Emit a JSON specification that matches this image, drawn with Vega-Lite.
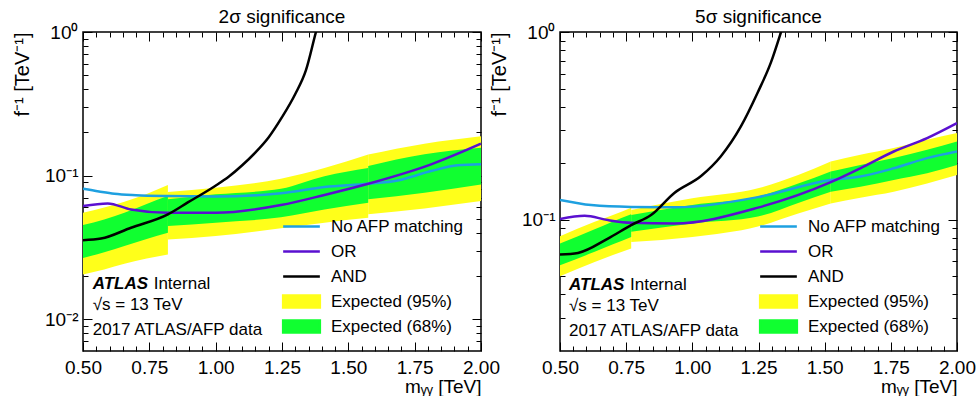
{
  "$schema": "https://vega.github.io/schema/vega-lite/v6.json",
  "padding": {"left": 11, "top": 7, "right": 0, "bottom": 0},
  "bounds": "flush",
  "spacing": 79,
  "datasets": {
    "bands2": [
      {"seg": 1, "x": 0.5, "lo95": 0.0205, "lo68": 0.0267, "hi68": 0.0452, "hi95": 0.0551},
      {"seg": 1, "x": 0.58, "lo95": 0.0222, "lo68": 0.0292, "hi68": 0.0495, "hi95": 0.06},
      {"seg": 1, "x": 0.656, "lo95": 0.0243, "lo68": 0.0323, "hi68": 0.0551, "hi95": 0.0657},
      {"seg": 1, "x": 0.74, "lo95": 0.0264, "lo68": 0.0362, "hi68": 0.0635, "hi95": 0.0745},
      {"seg": 1, "x": 0.82, "lo95": 0.0282, "lo68": 0.04, "hi68": 0.072, "hi95": 0.0859},
      {"seg": 2, "x": 0.82, "lo95": 0.0359, "lo68": 0.0445, "hi68": 0.0683, "hi95": 0.0767},
      {"seg": 2, "x": 1.0, "lo95": 0.0379, "lo68": 0.047, "hi68": 0.074, "hi95": 0.0822},
      {"seg": 2, "x": 1.246, "lo95": 0.043, "lo68": 0.0512, "hi68": 0.081, "hi95": 0.0952},
      {"seg": 2, "x": 1.41, "lo95": 0.047, "lo68": 0.058, "hi68": 0.099, "hi95": 0.113},
      {"seg": 2, "x": 1.575, "lo95": 0.0508, "lo68": 0.0647, "hi68": 0.113, "hi95": 0.14},
      {"seg": 3, "x": 1.575, "lo95": 0.0537, "lo68": 0.0683, "hi68": 0.1165, "hi95": 0.14},
      {"seg": 3, "x": 1.787, "lo95": 0.059, "lo68": 0.0759, "hi68": 0.1406, "hi95": 0.1667},
      {"seg": 3, "x": 2.0, "lo95": 0.0664, "lo68": 0.0868, "hi68": 0.156, "hi95": 0.188}
    ],
    "lines2": [
      {"series": "No AFP matching", "x": 0.5, "y": 0.0809},
      {"series": "No AFP matching", "x": 0.56, "y": 0.0775},
      {"series": "No AFP matching", "x": 0.618, "y": 0.0747},
      {"series": "No AFP matching", "x": 0.7, "y": 0.073},
      {"series": "No AFP matching", "x": 0.82, "y": 0.072},
      {"series": "No AFP matching", "x": 1.0, "y": 0.0715},
      {"series": "No AFP matching", "x": 1.246, "y": 0.0752},
      {"series": "No AFP matching", "x": 1.41, "y": 0.0832},
      {"series": "No AFP matching", "x": 1.575, "y": 0.0877},
      {"series": "No AFP matching", "x": 1.686, "y": 0.0925},
      {"series": "No AFP matching", "x": 1.812, "y": 0.1075},
      {"series": "No AFP matching", "x": 1.912, "y": 0.118},
      {"series": "No AFP matching", "x": 2.0, "y": 0.12},
      {"series": "OR", "x": 0.5, "y": 0.0613},
      {"series": "OR", "x": 0.593, "y": 0.064},
      {"series": "OR", "x": 0.681, "y": 0.058},
      {"series": "OR", "x": 0.82, "y": 0.055},
      {"series": "OR", "x": 1.0, "y": 0.055},
      {"series": "OR", "x": 1.246, "y": 0.0623},
      {"series": "OR", "x": 1.41, "y": 0.0733},
      {"series": "OR", "x": 1.575, "y": 0.0877},
      {"series": "OR", "x": 1.812, "y": 0.1197},
      {"series": "OR", "x": 2.0, "y": 0.1667},
      {"series": "AND", "x": 0.5, "y": 0.0355},
      {"series": "AND", "x": 0.568, "y": 0.0364},
      {"series": "AND", "x": 0.681, "y": 0.0433},
      {"series": "AND", "x": 0.82, "y": 0.0537},
      {"series": "AND", "x": 0.895, "y": 0.065},
      {"series": "AND", "x": 0.995, "y": 0.084},
      {"series": "AND", "x": 1.05, "y": 0.0985},
      {"series": "AND", "x": 1.1, "y": 0.118},
      {"series": "AND", "x": 1.15, "y": 0.145},
      {"series": "AND", "x": 1.2, "y": 0.185},
      {"series": "AND", "x": 1.25, "y": 0.255},
      {"series": "AND", "x": 1.3, "y": 0.37},
      {"series": "AND", "x": 1.34, "y": 0.54},
      {"series": "AND", "x": 1.378, "y": 1.0},
      {"series": "AND", "x": 1.4, "y": 1.4}
    ],
    "bands5": [
      {"seg": 1, "x": 0.5, "lo95": 0.05, "lo68": 0.0573, "hi68": 0.0747, "hi95": 0.0818},
      {"seg": 1, "x": 0.631, "lo95": 0.0596, "lo68": 0.0675, "hi68": 0.089, "hi95": 0.0975},
      {"seg": 1, "x": 0.7, "lo95": 0.065, "lo68": 0.074, "hi68": 0.098, "hi95": 0.106},
      {"seg": 1, "x": 0.769, "lo95": 0.0703, "lo68": 0.081, "hi68": 0.107, "hi95": 0.116},
      {"seg": 2, "x": 0.769, "lo95": 0.0762, "lo68": 0.0863, "hi68": 0.106, "hi95": 0.1127},
      {"seg": 2, "x": 1.0, "lo95": 0.081, "lo68": 0.0956, "hi68": 0.12, "hi95": 0.13},
      {"seg": 2, "x": 1.248, "lo95": 0.092, "lo68": 0.104, "hi68": 0.133, "hi95": 0.147},
      {"seg": 2, "x": 1.4, "lo95": 0.108, "lo68": 0.123, "hi68": 0.156, "hi95": 0.173},
      {"seg": 2, "x": 1.523, "lo95": 0.122, "lo68": 0.141, "hi68": 0.181, "hi95": 0.204},
      {"seg": 3, "x": 1.523, "lo95": 0.122, "lo68": 0.141, "hi68": 0.181, "hi95": 0.204},
      {"seg": 3, "x": 1.635, "lo95": 0.131, "lo68": 0.15, "hi68": 0.196, "hi95": 0.222},
      {"seg": 3, "x": 1.761, "lo95": 0.141, "lo68": 0.163, "hi68": 0.213, "hi95": 0.241},
      {"seg": 3, "x": 1.887, "lo95": 0.156, "lo68": 0.177, "hi68": 0.236, "hi95": 0.267},
      {"seg": 3, "x": 2.0, "lo95": 0.173, "lo68": 0.196, "hi68": 0.261, "hi95": 0.29}
    ],
    "lines5": [
      {"series": "No AFP matching", "x": 0.5, "y": 0.1274},
      {"series": "No AFP matching", "x": 0.618, "y": 0.1197},
      {"series": "No AFP matching", "x": 0.769, "y": 0.117},
      {"series": "No AFP matching", "x": 0.933, "y": 0.1165},
      {"series": "No AFP matching", "x": 1.248, "y": 0.132},
      {"series": "No AFP matching", "x": 1.521, "y": 0.163},
      {"series": "No AFP matching", "x": 1.635, "y": 0.17},
      {"series": "No AFP matching", "x": 1.761, "y": 0.188},
      {"series": "No AFP matching", "x": 1.887, "y": 0.213},
      {"series": "No AFP matching", "x": 2.0, "y": 0.231},
      {"series": "OR", "x": 0.5, "y": 0.1009},
      {"series": "OR", "x": 0.593, "y": 0.105},
      {"series": "OR", "x": 0.681, "y": 0.0996},
      {"series": "OR", "x": 0.769, "y": 0.0964},
      {"series": "OR", "x": 0.933, "y": 0.0956},
      {"series": "OR", "x": 1.248, "y": 0.116},
      {"series": "OR", "x": 1.521, "y": 0.158},
      {"series": "OR", "x": 1.635, "y": 0.188},
      {"series": "OR", "x": 1.761, "y": 0.231},
      {"series": "OR", "x": 1.887, "y": 0.272},
      {"series": "OR", "x": 2.0, "y": 0.327},
      {"series": "AND", "x": 0.5, "y": 0.0653},
      {"series": "AND", "x": 0.568, "y": 0.0666},
      {"series": "AND", "x": 0.681, "y": 0.0794},
      {"series": "AND", "x": 0.769, "y": 0.0937},
      {"series": "AND", "x": 0.844, "y": 0.106},
      {"series": "AND", "x": 0.932, "y": 0.139},
      {"series": "AND", "x": 1.033, "y": 0.171},
      {"series": "AND", "x": 1.108, "y": 0.218},
      {"series": "AND", "x": 1.184, "y": 0.315},
      {"series": "AND", "x": 1.247, "y": 0.476},
      {"series": "AND", "x": 1.297, "y": 0.689},
      {"series": "AND", "x": 1.335, "y": 1.0},
      {"series": "AND", "x": 1.36, "y": 1.3}
    ]
  },
  "hconcat": [
    {
      "width": 398,
      "height": 319,
      "title": {"text": "2σ significance", "frame": "group"},
      "layer": [
        {
          "data": {"name": "bands2"},
          "mark": {"type": "area", "interpolate": "monotone", "clip": true},
          "encoding": {
            "x": {"field": "x", "type": "quantitative", "scale": {"domain": [0.5, 2.0], "nice": false, "zero": false},
              "axis": {"orient": "bottom", "values": [0.5, 0.75, 1, 1.25, 1.5, 1.75, 2], "format": ".2f", "tickSize": -9, "labelPadding": 16, "labelFlush": false, "title": "mᵧᵧ [TeV]", "titleFontSize": 19, "titleAnchor": "end", "titleAlign": "right", "titlePadding": 0}},
            "y": {"field": "hi95", "type": "quantitative", "scale": {"type": "log", "domain": [0.006, 1], "nice": false},
              "axis": {"orient": "left", "values": [0.01, 0.1, 1], "labelExpr": "datum.value >= 0.5 ? '10⁰' : datum.value >= 0.05 ? '10⁻¹' : '10⁻²'", "tickSize": -9, "labelPadding": 14, "labelFlush": false, "minExtent": 45, "maxExtent": 45, "title": "f⁻¹ [TeV⁻¹]", "titleFontSize": 20, "titleAnchor": "end", "titlePadding": 6}},
            "y2": {"field": "lo95"},
            "detail": {"field": "seg"},
            "color": {"datum": "Expected (95%)",
              "scale": {"domain": ["No AFP matching", "OR", "AND", "Expected (95%)", "Expected (68%)"], "range": ["#1ea0e0", "#5a10d0", "#000000", "#ffff1a", "#10ff30"]},
              "legend": {"orient": "none", "legendX": 210, "legendY": 186, "title": null, "rowPadding": 2, "labelOffset": 21, "gridAlign": "all",
                "encode": {"symbols": {"update": {
                  "shape": {"signal": "datum.value == 'Expected (95%)' || datum.value == 'Expected (68%)' ? 'M-2.62,-0.857H2.62V0.857H-2.62Z' : 'M-2.62,0H2.62'"},
                  "fill": {"signal": "datum.value == 'Expected (95%)' ? '#ffff1a' : datum.value == 'Expected (68%)' ? '#10ff30' : 'transparent'"},
                  "stroke": {"signal": "datum.value == 'No AFP matching' ? '#1ea0e0' : datum.value == 'OR' ? '#5a10d0' : datum.value == 'AND' ? '#000000' : 'transparent'"},
                  "strokeWidth": {"value": 2.5}, "opacity": {"value": 1}, "fillOpacity": {"value": 1}, "strokeOpacity": {"value": 1}}}}}}
          }
        },
        {
          "data": {"name": "bands2"},
          "mark": {"type": "area", "interpolate": "monotone", "clip": true},
          "encoding": {
            "x": {"field": "x", "type": "quantitative", "axis": {"orient": "bottom", "values": [0.55, 0.6, 0.65, 0.7, 0.8, 0.85, 0.9, 0.95, 1.05, 1.1, 1.15, 1.2, 1.3, 1.35, 1.4, 1.45, 1.55, 1.6, 1.65, 1.7, 1.8, 1.85, 1.9, 1.95], "tickSize": -5, "labels": false, "title": null, "minExtent": 0, "maxExtent": 0}},
            "y": {"field": "hi68", "type": "quantitative", "axis": {"orient": "left", "values": [0.007, 0.008, 0.009, 0.02, 0.03, 0.04, 0.05, 0.06, 0.07, 0.08, 0.09, 0.2, 0.3, 0.4, 0.5, 0.6, 0.7, 0.8, 0.9], "tickSize": -5, "labels": false, "title": null, "minExtent": 0, "maxExtent": 0}},
            "y2": {"field": "lo68"},
            "detail": {"field": "seg"},
            "color": {"datum": "Expected (68%)", "legend": {"orient": "none", "legendX": 210, "legendY": 186, "title": null, "rowPadding": 2, "labelOffset": 21, "gridAlign": "all"}}
          }
        },
        {
          "data": {"name": "lines2"},
          "mark": {"type": "line", "interpolate": "monotone", "clip": true, "strokeWidth": 2.5},
          "encoding": {
            "x": {"field": "x", "type": "quantitative", "axis": {"orient": "top", "values": [0.5, 0.75, 1, 1.25, 1.5, 1.75, 2], "tickSize": -9, "labels": false, "title": null, "minExtent": 0, "maxExtent": 0}},
            "y": {"field": "y", "type": "quantitative", "axis": {"orient": "right", "values": [0.01, 0.1, 1], "tickSize": -9, "labels": false, "title": null, "minExtent": 0, "maxExtent": 0}},
            "color": {"field": "series", "type": "nominal", "legend": {"orient": "none", "legendX": 210, "legendY": 186, "title": null, "rowPadding": 2, "labelOffset": 21, "gridAlign": "all"}}
          }
        },
        {
          "data": {"values": [{}]},
          "mark": {"type": "text", "text": "ATLAS", "fontStyle": "italic", "fontWeight": "bold", "fontSize": 17, "align": "left", "baseline": "middle"},
          "encoding": {
            "x": {"datum": 0.5365, "type": "quantitative", "axis": {"orient": "top", "values": [0.55, 0.6, 0.65, 0.7, 0.8, 0.85, 0.9, 0.95, 1.05, 1.1, 1.15, 1.2, 1.3, 1.35, 1.4, 1.45, 1.55, 1.6, 1.65, 1.7, 1.8, 1.85, 1.9, 1.95], "tickSize": -5, "labels": false, "title": null, "minExtent": 0, "maxExtent": 0}},
            "y": {"datum": 0.01754, "type": "quantitative", "axis": {"orient": "right", "values": [0.007, 0.008, 0.009, 0.02, 0.03, 0.04, 0.05, 0.06, 0.07, 0.08, 0.09, 0.2, 0.3, 0.4, 0.5, 0.6, 0.7, 0.8, 0.9], "tickSize": -5, "labels": false, "title": null, "minExtent": 0, "maxExtent": 0}}
          }
        },
        {
          "data": {"values": [{}]},
          "mark": {"type": "text", "text": "Internal", "fontSize": 17, "align": "left", "baseline": "middle"},
          "encoding": {
            "x": {"datum": 0.7664, "type": "quantitative", "axis": null},
            "y": {"datum": 0.01754, "type": "quantitative", "axis": null}
          }
        },
        {
          "data": {"values": [{}]},
          "mark": {"type": "text", "text": "√s = 13 TeV", "fontSize": 17, "align": "left", "baseline": "middle"},
          "encoding": {
            "x": {"datum": 0.5365, "type": "quantitative", "axis": null},
            "y": {"datum": 0.01252, "type": "quantitative", "axis": null}
          }
        },
        {
          "data": {"values": [{}]},
          "mark": {"type": "text", "text": "2017 ATLAS/AFP data", "fontSize": 17, "align": "left", "baseline": "middle"},
          "encoding": {
            "x": {"datum": 0.5365, "type": "quantitative", "axis": null},
            "y": {"datum": 0.00838, "type": "quantitative", "axis": null}
          }
        }
      ],
      "resolve": {"axis": {"x": "independent", "y": "independent"}}
    },
    {
      "width": 397,
      "height": 319,
      "title": {"text": "5σ significance", "frame": "group"},
      "layer": [
        {
          "data": {"name": "bands5"},
          "mark": {"type": "area", "interpolate": "monotone", "clip": true},
          "encoding": {
            "x": {"field": "x", "type": "quantitative", "scale": {"domain": [0.5, 2.0], "nice": false, "zero": false},
              "axis": {"orient": "bottom", "values": [0.5, 0.75, 1, 1.25, 1.5, 1.75, 2], "format": ".2f", "tickSize": -9, "labelPadding": 16, "labelFlush": false, "title": "mᵧᵧ [TeV]", "titleFontSize": 19, "titleAnchor": "end", "titleAlign": "right", "titlePadding": 0}},
            "y": {"field": "hi95", "type": "quantitative", "scale": {"type": "log", "domain": [0.02, 1], "nice": false},
              "axis": {"orient": "left", "values": [0.1, 1], "labelExpr": "datum.value >= 0.5 ? '10⁰' : '10⁻¹'", "tickSize": -9, "labelPadding": 14, "labelFlush": false, "minExtent": 45, "maxExtent": 45, "title": "f⁻¹ [TeV⁻¹]", "titleFontSize": 20, "titleAnchor": "end", "titlePadding": 6}},
            "y2": {"field": "lo95"},
            "detail": {"field": "seg"},
            "color": {"datum": "Expected (95%)",
              "scale": {"domain": ["No AFP matching", "OR", "AND", "Expected (95%)", "Expected (68%)"], "range": ["#1ea0e0", "#5a10d0", "#000000", "#ffff1a", "#10ff30"]},
              "legend": {"orient": "none", "legendX": 210, "legendY": 186, "title": null, "rowPadding": 2, "labelOffset": 21, "gridAlign": "all",
                "encode": {"symbols": {"update": {
                  "shape": {"signal": "datum.value == 'Expected (95%)' || datum.value == 'Expected (68%)' ? 'M-2.62,-0.857H2.62V0.857H-2.62Z' : 'M-2.62,0H2.62'"},
                  "fill": {"signal": "datum.value == 'Expected (95%)' ? '#ffff1a' : datum.value == 'Expected (68%)' ? '#10ff30' : 'transparent'"},
                  "stroke": {"signal": "datum.value == 'No AFP matching' ? '#1ea0e0' : datum.value == 'OR' ? '#5a10d0' : datum.value == 'AND' ? '#000000' : 'transparent'"},
                  "strokeWidth": {"value": 2.5}, "opacity": {"value": 1}, "fillOpacity": {"value": 1}, "strokeOpacity": {"value": 1}}}}}}
          }
        },
        {
          "data": {"name": "bands5"},
          "mark": {"type": "area", "interpolate": "monotone", "clip": true},
          "encoding": {
            "x": {"field": "x", "type": "quantitative", "axis": {"orient": "bottom", "values": [0.55, 0.6, 0.65, 0.7, 0.8, 0.85, 0.9, 0.95, 1.05, 1.1, 1.15, 1.2, 1.3, 1.35, 1.4, 1.45, 1.55, 1.6, 1.65, 1.7, 1.8, 1.85, 1.9, 1.95], "tickSize": -5, "labels": false, "title": null, "minExtent": 0, "maxExtent": 0}},
            "y": {"field": "hi68", "type": "quantitative", "axis": {"orient": "left", "values": [0.03, 0.04, 0.05, 0.06, 0.07, 0.08, 0.09, 0.2, 0.3, 0.4, 0.5, 0.6, 0.7, 0.8, 0.9], "tickSize": -5, "labels": false, "title": null, "minExtent": 0, "maxExtent": 0}},
            "y2": {"field": "lo68"},
            "detail": {"field": "seg"},
            "color": {"datum": "Expected (68%)", "legend": {"orient": "none", "legendX": 210, "legendY": 186, "title": null, "rowPadding": 2, "labelOffset": 21, "gridAlign": "all"}}
          }
        },
        {
          "data": {"name": "lines5"},
          "mark": {"type": "line", "interpolate": "monotone", "clip": true, "strokeWidth": 2.5},
          "encoding": {
            "x": {"field": "x", "type": "quantitative", "axis": {"orient": "top", "values": [0.5, 0.75, 1, 1.25, 1.5, 1.75, 2], "tickSize": -9, "labels": false, "title": null, "minExtent": 0, "maxExtent": 0}},
            "y": {"field": "y", "type": "quantitative", "axis": {"orient": "right", "values": [0.1, 1], "tickSize": -9, "labels": false, "title": null, "minExtent": 0, "maxExtent": 0}},
            "color": {"field": "series", "type": "nominal", "legend": {"orient": "none", "legendX": 210, "legendY": 186, "title": null, "rowPadding": 2, "labelOffset": 21, "gridAlign": "all"}}
          }
        },
        {
          "data": {"values": [{}]},
          "mark": {"type": "text", "text": "ATLAS", "fontStyle": "italic", "fontWeight": "bold", "fontSize": 17, "align": "left", "baseline": "middle"},
          "encoding": {
            "x": {"datum": 0.534, "type": "quantitative", "axis": {"orient": "top", "values": [0.55, 0.6, 0.65, 0.7, 0.8, 0.85, 0.9, 0.95, 1.05, 1.1, 1.15, 1.2, 1.3, 1.35, 1.4, 1.45, 1.55, 1.6, 1.65, 1.7, 1.8, 1.85, 1.9, 1.95], "tickSize": -5, "labels": false, "title": null, "minExtent": 0, "maxExtent": 0}},
            "y": {"datum": 0.0449, "type": "quantitative", "axis": {"orient": "right", "values": [0.03, 0.04, 0.05, 0.06, 0.07, 0.08, 0.09, 0.2, 0.3, 0.4, 0.5, 0.6, 0.7, 0.8, 0.9], "tickSize": -5, "labels": false, "title": null, "minExtent": 0, "maxExtent": 0}}
          }
        },
        {
          "data": {"values": [{}]},
          "mark": {"type": "text", "text": "Internal", "fontSize": 17, "align": "left", "baseline": "middle"},
          "encoding": {
            "x": {"datum": 0.7645, "type": "quantitative", "axis": null},
            "y": {"datum": 0.0449, "type": "quantitative", "axis": null}
          }
        },
        {
          "data": {"values": [{}]},
          "mark": {"type": "text", "text": "√s = 13 TeV", "fontSize": 17, "align": "left", "baseline": "middle"},
          "encoding": {
            "x": {"datum": 0.534, "type": "quantitative", "axis": null},
            "y": {"datum": 0.0347, "type": "quantitative", "axis": null}
          }
        },
        {
          "data": {"values": [{}]},
          "mark": {"type": "text", "text": "2017 ATLAS/AFP data", "fontSize": 17, "align": "left", "baseline": "middle"},
          "encoding": {
            "x": {"datum": 0.534, "type": "quantitative", "axis": null},
            "y": {"datum": 0.0255, "type": "quantitative", "axis": null}
          }
        }
      ],
      "resolve": {"axis": {"x": "independent", "y": "independent"}}
    }
  ],
  "resolve": {"scale": {"x": "independent", "y": "independent", "color": "independent"}, "legend": {"color": "independent"}},
  "config": {
    "font": "Liberation Sans",
    "background": "white",
    "view": {"stroke": "black", "strokeWidth": 1.5},
    "axis": {"domain": false, "grid": false, "tickColor": "black", "tickWidth": 1, "labelColor": "black", "titleColor": "black", "labelFont": "Liberation Sans", "titleFont": "Liberation Sans", "labelFontSize": 19, "titleFontSize": 18, "titleFontWeight": "normal"},
    "title": {"font": "Liberation Sans", "fontSize": 19, "fontWeight": "normal", "color": "black", "offset": -4},
    "text": {"color": "black", "font": "Liberation Sans"},
    "legend": {
      "labelFont": "Liberation Sans", "labelFontSize": 17, "labelColor": "black", "padding": 0, "symbolSize": 196, "symbolStrokeWidth": 2.5, "labelLimit": 300
    }
  }
}
